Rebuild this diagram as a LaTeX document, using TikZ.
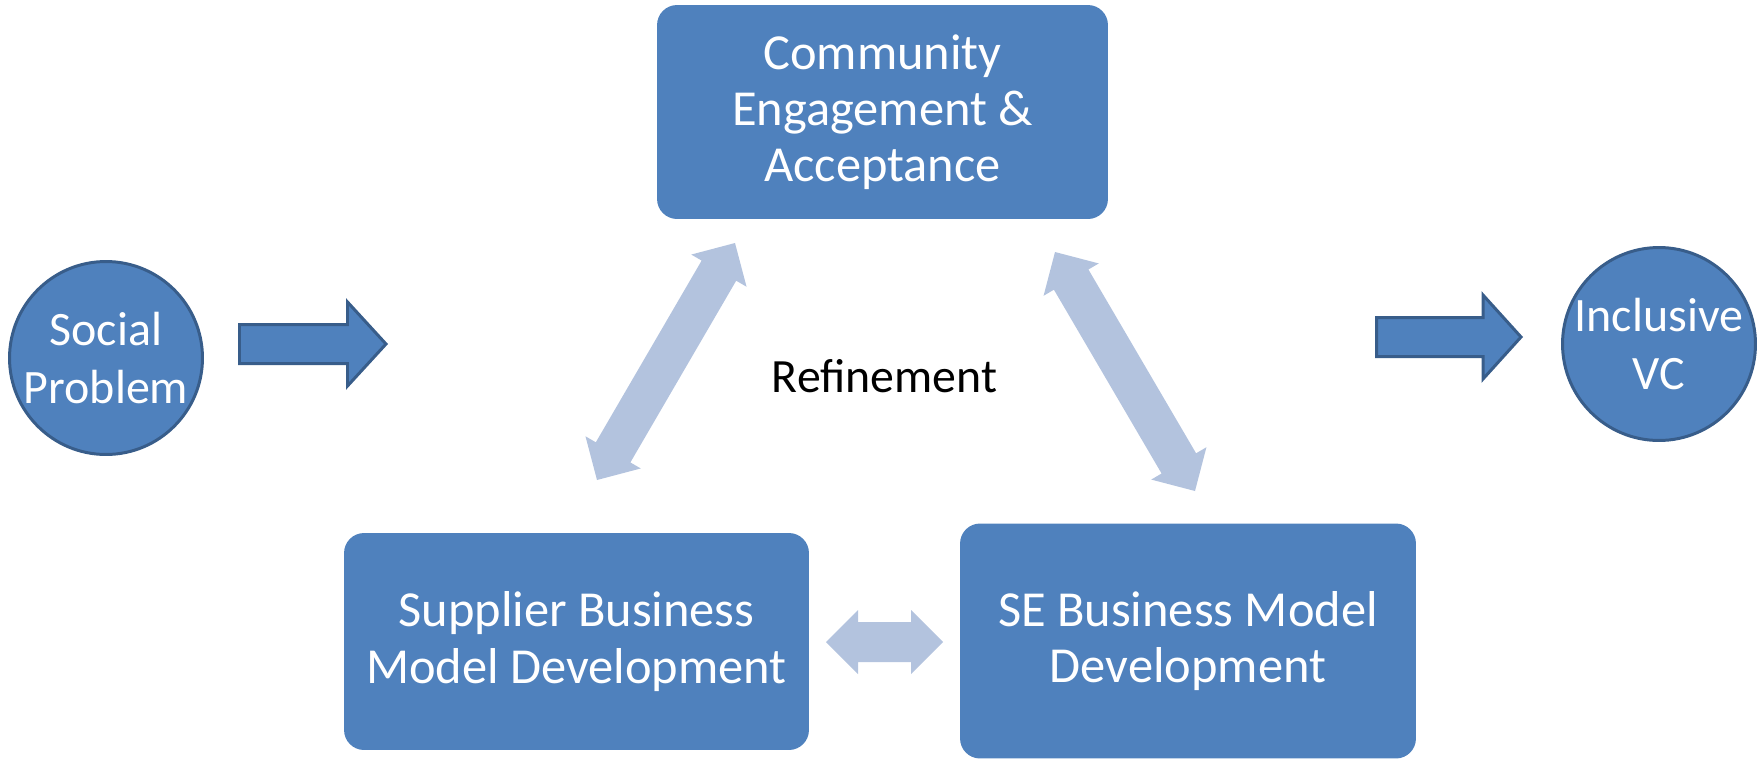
\documentclass[tikz,border=0pt]{standalone}
\usepackage{fontspec}
\setmainfont{Carlito}
\usetikzlibrary{calc}

\definecolor{boxblue}{HTML}{4F81BD}
\definecolor{lineblue}{HTML}{385D8A}
\definecolor{paleblue}{HTML}{B3C3DE}

\newcommand{\twoway}[2]{%
  \fill[paleblue] (#1)
    -- ($($(#1)!0.64cm!(#2)$)!0.64cm!90:(#2)$)
    -- ($($(#1)!0.64cm!(#2)$)!0.4cm!90:(#2)$)
    -- ($($(#2)!0.64cm!(#1)$)!0.4cm!-90:(#1)$)
    -- ($($(#2)!0.64cm!(#1)$)!0.64cm!-90:(#1)$)
    -- (#2)
    -- ($($(#2)!0.64cm!(#1)$)!0.64cm!90:(#1)$)
    -- ($($(#2)!0.64cm!(#1)$)!0.4cm!90:(#1)$)
    -- ($($(#1)!0.64cm!(#2)$)!0.4cm!-90:(#2)$)
    -- ($($(#1)!0.64cm!(#2)$)!0.64cm!-90:(#2)$)
    -- cycle;}

\begin{document}
\begin{tikzpicture}[x=0.02cm,y=-0.02cm,
  roundbox/.style={fill=boxblue, rounded corners=0.4cm, text=white, align=center,
    font=\fontsize{28.7}{32}\selectfont},
  ball/.style={circle, fill=boxblue, draw=lineblue, line width=1.7pt, text=white,
    align=center, inner sep=0pt, minimum size=3.86cm, font=\fontsize{27.3}{33}\selectfont},
  blockarrow/.style={fill=boxblue, draw=lineblue, line width=1.7pt}]

\useasboundingbox (0,0) rectangle (1761,758);

\node[roundbox, minimum width=9.02cm, minimum height=4.28cm] (cea) at (882.5,112) {Community\\Engagement \&\\Acceptance};
\node[roundbox, minimum width=9.3cm, minimum height=4.34cm] (sup) at (576.5,641.5) {Supplier Business\\Model Development};
\node[roundbox, minimum width=9.12cm, minimum height=4.7cm] (seb) at (1188,641) {SE Business Model\\Development};

\node[ball] (soc) at (106,358) {Social\\Problem};
\node[ball] (inc) at (1659,344) {Inclusive\\VC};

\node[anchor=base, font=\fontsize{27.2}{31}\selectfont] (ref) at (884.5,392) {Refinement};

\draw[blockarrow] (239.5,324.5) -- (347.5,324.5) -- (347.5,302) -- (386,344) -- (347.5,386) -- (347.5,363.5) -- (239.5,363.5) -- cycle;
\draw[blockarrow] (1376.5,317.5) -- (1483,317.5) -- (1483,295) -- (1521,337) -- (1483,379) -- (1483,356.5) -- (1376.5,356.5) -- cycle;

\coordinate (supend) at (597,480);
\coordinate (cealeft) at (735,243);
\coordinate (cearight) at (1055,252);
\coordinate (sebend) at (1195,491);
\coordinate (supright) at (826,642);
\coordinate (sebleft) at (943,642);

\twoway{supend}{cealeft}
\twoway{cearight}{sebend}
\twoway{supright}{sebleft}

\end{tikzpicture}
\end{document}
